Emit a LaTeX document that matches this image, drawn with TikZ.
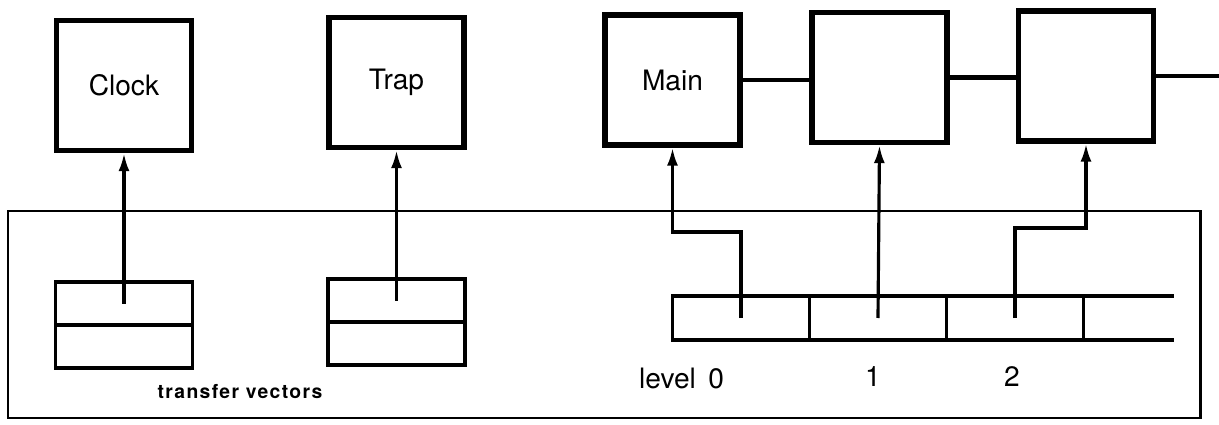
\documentclass[tikz,border=0pt]{standalone}
\usepackage{fontspec}
\setmainfont{TeX Gyre Heros}
\newfontfamily\tvfont[LetterSpace=7]{TeX Gyre Heros}
\usetikzlibrary{positioning,arrows.meta}

\tikzset{
  box/.style={draw, line width=3pt, minimum width=2.7cm, minimum height=2.6cm, inner sep=0pt, font=\fontsize{16}{19}\selectfont},
  cell/.style={draw, line width=1.8pt, minimum width=2.74cm, minimum height=0.86cm, inner sep=0pt, outer sep=0pt},
  link/.style={line width=2.6pt},
  ptr/.style={line width=1.8pt, -{Latex[length=3.6mm,width=2.2mm]}},
  lbl/.style={font=\fontsize{16}{19}\selectfont},
}

\begin{document}
\begin{tikzpicture}
        \useasboundingbox (0,0) rectangle (24.38,8.48);

        % Processes
        \node[box] (clock) at (2.48,6.77) {Clock};
        \node[box] (trap) at (7.93,6.83) {Trap};
        \node[box] (main) at (13.45,6.88) {Main};
        \node[box] (prog1) at (17.59,6.93) {};
        \node[box] (prog2) at (21.72,6.96) {};
        \coordinate (out) at (24.38,6.96);

        % Chain of processes
        \draw[link] (main.east) -- (main.east -| prog1.west);
        \draw[link] (prog1.east) -- (prog1.east -| prog2.west);
        \draw[link] (prog2.east) -- (out);

        % Frame
        \draw[line width=1.7pt] (0.16,0.12) rectangle (24.0,4.26);

        % Transfer vectors
        \node[cell] (clkvec) at (2.48,2.41) {};
        \node[cell, below=0pt of clkvec] (clkvecb) {};
        \node[cell] (trapvec) at (7.93,2.47) {};
        \node[cell, below=0pt of trapvec] (trapvecb) {};
        \node[font=\tvfont\bfseries\fontsize{11}{13}\selectfont] (tv) at (4.8,0.64) {transfer vectors};

        % Level table
        \node[cell, minimum height=0.88cm] (lev0) at (14.82,2.12) {};
        \node[cell, minimum height=0.88cm, right=0pt of lev0] (lev1) {};
        \node[cell, minimum height=0.88cm, right=0pt of lev1] (lev2) {};
        \node[cell, draw=none, minimum height=0.88cm, minimum width=1.8cm, right=0pt of lev2] (lev3) {};
        \draw[line width=1.8pt] (lev3.north west) -- (lev3.north east);
        \draw[line width=1.8pt] (lev3.south west) -- (lev3.south east);

        \node[lbl] (lvl0) at (13.63,0.92) {level\, 0};
        \node[lbl] (lvl1) at (17.46,0.95) {1};
        \node[lbl] (lvl2) at (20.24,0.95) {2};

        % Pointers
        \draw[ptr] (clkvec.center) -- (clock.south);
        \draw[ptr] (trapvec.center) -- (trap.south);
        \draw[ptr] (lev0.center) -- ++(0,1.72) -| (main.south);
        \draw[ptr] (lev1.center) -- (prog1.south);
        \draw[ptr] (lev2.center) -- ++(0,1.8) -| (prog2.south);
\end{tikzpicture}
\end{document}
